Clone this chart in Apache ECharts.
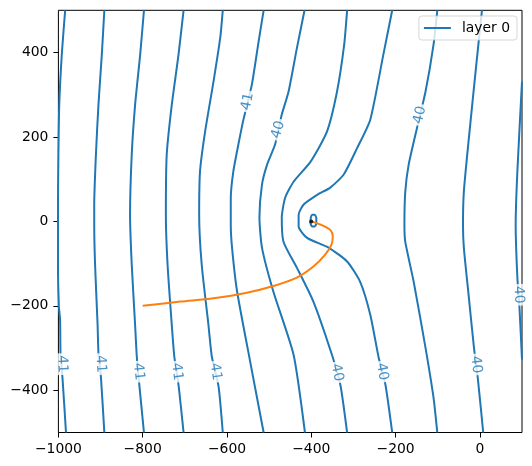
<!DOCTYPE html>
<html>
<head>
<meta charset="utf-8">
<script src="https://cdn.jsdelivr.net/npm/echarts@6/dist/echarts.min.js"></script>
<style>
  html, body { margin: 0; padding: 0; background: #fff; }
  #main { width: 532px; height: 466px; }
</style>
</head>
<body>
<div id="main"></div>
<script>
// contour lines of head, layer 0 (x, y in model units)
const line1 = [[-984, 500], [-992, 395], [-998, 276], [-1000, 158], [-1001, 40], [-1001, -8], [-1001, -102], [-999, -200], [-996, -233], [-995, -311], [-990, -375], [-982, -500]]
const line2 = [[-891, 500], [-897, 395], [-905, 276], [-911, 158], [-915, 40], [-915, -8], [-913, -102], [-907, -245], [-905, -311], [-899, -370], [-891, -500]]
const line3 = [[-797, 500], [-806, 395], [-818, 276], [-826, 158], [-830, 16], [-826, -102], [-818, -245], [-814, -320], [-808, -387], [-797, -500]]
const line4 = [[-703, 500], [-715, 395], [-731, 276], [-743, 158], [-745, 16], [-741, -102], [-731, -245], [-725, -320], [-715, -387], [-703, -500]]
const line5 = [[-610, 500], [-616, 435], [-632, 331], [-652, 212], [-664, 118], [-666, 16], [-660, -102], [-644, -245], [-636, -320], [-620, -391], [-610, -500]]
const line6 = [[-513, 500], [-525, 426], [-541, 324], [-561, 241], [-573, 182], [-585, 118], [-591, 55], [-591, -8], [-588, -62], [-576, -166], [-545, -332], [-513, -500]]
const line7 = [[-416, 500], [-434, 411], [-454, 307], [-470, 253], [-486, 182], [-505, 134], [-517, 87], [-523, 9], [-517, -62], [-490, -166], [-442, -316], [-415, -500]]
const line8 = [[-315, 500], [-322, 418], [-339, 307], [-363, 212], [-402, 141], [-442, 94], [-462, 56], [-470, 9], [-466, -48], [-434, -110], [-395, -190], [-351, -316], [-331, -387], [-315, -500]]
const line9 = [[-208, 500], [-229, 395], [-260, 241], [-291, 174], [-323, 111], [-355, 80], [-386, 63], [-418, 40], [-430, 16], [-430, -12], [-410, -39], [-359, -62], [-315, -95], [-284, -143], [-260, -221], [-240, -323], [-224, -387], [-208, -500]]
const line10 = [[-101, 500], [-110, 418], [-129, 307], [-149, 222], [-169, 134], [-177, 70], [-179, -8], [-177, -48], [-157, -143], [-129, -299], [-110, -417], [-101, -500]]
const line11 = [[5, 500], [-6, 395], [-26, 198], [-38, 70], [-40, -8], [-38, -62], [-26, -181], [-14, -299], [-5, -370], [8, -500]]
const line12 = [[100, 331], [89, 118], [85, -8], [89, -133], [94, -204], [100, -327]]
const wellLoop = [[-401, 10], [-398, 16], [-392, 16], [-388, 8], [-388, -5], [-392, -12], [-398, -12], [-402, -4], [-401, 10]]

const contourLines = [line1, line2, line3, line4, line5, line6, line7, line8, line9, line10, line11, line12, wellLoop]

// inline contour labels
const labelPos = [[-991, -338], [-900, -338], [-810, -356], [-719, -356], [-627, -356], [-551, 284], [-478, 217], [-339, -358], [-232, -356], [-142, 252], [-9, -339], [92, -174]]
const labelText = ['41', '41', '41', '41', '41', '41', '40', '40', '40', '40', '40', '40']
const labelLine = [0, 1, 2, 3, 4, 5, 6, 7, 8, 9, 10, 11]

// particle pathline into the well
const pathline = [[-800, -200], [-711, -190], [-632, -182], [-553, -169], [-490, -153], [-434, -133], [-395, -107], [-368, -80], [-352, -55], [-349, -36], [-355, -20], [-377, -8], [-400, 0]]
const well = [[-400, 0]]

const xTicks = [-1000, -800, -600, -400, -200, 0]
const yTicks = [-400, -200, 0, 200, 400]

const BLUE = '#1f77b4'
const ORANGE = '#ff7f0e'
const FONT = 'DejaVu Sans'

const chartDom = document.getElementById('main')
const myChart = echarts.init(chartDom, null, { renderer: 'canvas' })

function minus(v) {
  return String(v).replace('-', '\u2212')
}

function axisCommon(ticks) {
  return {
    type: 'value',
    axisLine: { show: false, onZero: false },
    axisTick: { show: true, inside: false, length: 5, customValues: ticks, lineStyle: { color: '#000', width: 1 } },
    axisLabel: { customValues: ticks, margin: 10, color: '#000', fontSize: 13.9, fontFamily: FONT, formatter: minus },
    splitLine: { show: false },
  }
}

function labelSeries(angles) {
  return {
    type: 'scatter',
    silent: true,
    z: 5,
    symbolSize: 0,
    data: labelPos.map((p, i) => ({
      value: p,
      label: { formatter: labelText[i], rotate: angles[i] },
    })),
    label: {
      show: true,
      position: 'inside',
      color: BLUE,
      fontSize: 13.9,
      fontFamily: FONT,
      backgroundColor: '#fff',
      padding: [0, 2],
    },
  }
}

var option = {
  animation: false,
  backgroundColor: '#fff',
  grid: {
    show: true,
    left: 58.4,
    right: 10,
    top: 10.3,
    bottom: 33.5,
    borderColor: '#000',
    borderWidth: 1,
    backgroundColor: 'transparent',
  },
  legend: {
    data: ['layer 0'],
    icon: 'rect',
    right: 15,
    top: 16,
    selectedMode: false,
    itemWidth: 27,
    itemHeight: 2,
    padding: [5, 7, 5, 5],
    borderColor: 'rgba(204,204,204,0.8)',
    borderWidth: 1,
    borderRadius: 3,
    backgroundColor: 'rgba(255,255,255,0.8)',
    textStyle: { fontFamily: FONT, fontSize: 13.9, color: '#000', padding: [0, 0, 0, 6] },
  },
  xAxis: Object.assign(axisCommon(xTicks), { min: -1000, max: 100 }),
  yAxis: Object.assign(axisCommon(yTicks), { min: -500, max: 500 }),
  series: contourLines.map((line) => ({
    name: 'layer 0',
    type: 'line',
    data: line,
    symbol: 'none',
    smooth: 0.2,
    clip: true,
    silent: true,
    lineStyle: { color: BLUE, width: 2 },
    itemStyle: { color: BLUE },
  })).concat([
    {
      type: 'line',
      data: pathline,
      symbol: 'none',
      smooth: 0.3,
      silent: true,
      z: 3,
      lineStyle: { color: ORANGE, width: 2 },
      itemStyle: { color: ORANGE },
    },
    {
      type: 'scatter',
      data: well,
      symbolSize: 4,
      silent: true,
      z: 4,
      itemStyle: { color: '#000' },
    },
    labelSeries(labelPos.map(() => 0)),
  ]),
}
myChart.setOption(option)

// rotate each label along its contour, like clabel does
const angles = labelPos.map((p, i) => {
  const line = contourLines[labelLine[i]]
  let j = 0
  let best = Infinity
  line.forEach((q, k) => {
    const d = Math.hypot(q[0] - p[0], q[1] - p[1])
    if (d < best) { best = d; j = k }
  })
  const a = myChart.convertToPixel({ gridIndex: 0 }, line[Math.max(j - 1, 0)])
  const b = myChart.convertToPixel({ gridIndex: 0 }, line[Math.min(j + 1, line.length - 1)])
  let ang = Math.atan2(-(b[1] - a[1]), b[0] - a[0]) * 180 / Math.PI
  if (ang > 90) ang -= 180
  if (ang <= -90) ang += 180
  return ang
})
option.series[option.series.length - 1] = labelSeries(angles)
myChart.setOption(option)
</script>
</body>
</html>
